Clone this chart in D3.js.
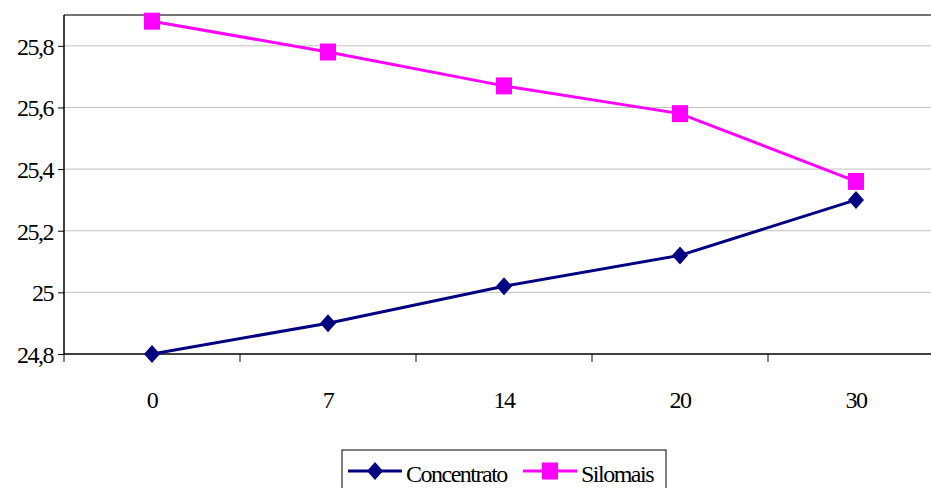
<!DOCTYPE html>
<meta charset="utf-8">
<style>
  body { margin: 0; background: #fff; }
  svg text { fill: #000; }
</style>
<body>
<script src="https://d3js.org/d3.v7.min.js"></script>
<div id="chart"></div>
<script>

// data
const days = ["0", "7", "14", "20", "30"];
const concentrato = [24.8, 24.9, 25.02, 25.12, 25.3];
const silomais = [25.88, 25.78, 25.67, 25.58, 25.36];
const yTicks = [24.8, 25.0, 25.2, 25.4, 25.6, 25.8];

const W = 931, H = 488;
const margin = {top: 15, left: 64, bottom: 354};
const plotRight = 944;   // plot area runs past the window edge
const serif = "Liberation Serif, DejaVu Serif, Times, serif";

const svg = d3.select("#chart").append("svg")
  .attr("width", W).attr("height", H);

const x = d3.scaleBand().domain(days).range([margin.left, plotRight]);
const y = d3.scaleLinear().domain([24.8, 25.9]).range([margin.bottom, margin.top]);

const fmt = d => String(+d.toFixed(1)).replace(".", ",");

// gridlines
svg.append("g").selectAll("line")
  .data(yTicks.slice(1))
  .join("line")
    .attr("x1", margin.left).attr("x2", plotRight)
    .attr("y1", d => y(d)).attr("y2", d => y(d))
    .attr("stroke", "#c0c0c0").attr("stroke-width", 1);

// plot area top border
svg.append("line")
  .attr("x1", margin.left).attr("x2", plotRight)
  .attr("y1", margin.top).attr("y2", margin.top)
  .attr("stroke", "#444").attr("stroke-width", 1.5);

// y axis
const yAxis = svg.append("g")
  .attr("transform", `translate(${margin.left},0)`)
  .call(d3.axisLeft(y).tickValues(yTicks).tickSize(6).tickPadding(5).tickFormat(fmt));
yAxis.select(".domain").attr("stroke", "#000").attr("stroke-width", 1.5)
  .attr("d", `M0,${margin.top}V${margin.bottom}`);
yAxis.selectAll(".tick line").attr("stroke", "#000");
yAxis.selectAll(".tick text")
  .attr("dy", "0.35em");

// x axis: ticks between categories
const xAxisG = svg.append("g").attr("transform", `translate(0,${margin.bottom})`);
xAxisG.append("line")
  .attr("x1", margin.left).attr("x2", plotRight)
  .attr("stroke", "#000").attr("stroke-width", 1.5);
xAxisG.selectAll(".sep")
  .data(days)
  .join("line").attr("class", "sep")
    .attr("x1", d => x(d)).attr("x2", d => x(d))
    .attr("y1", 0).attr("y2", 8)
    .attr("stroke", "#000");
xAxisG.selectAll(".lab")
  .data(days)
  .join("text").attr("class", "lab")
    .attr("x", d => x(d) + x.bandwidth() / 2)
    .attr("y", 54)
    .attr("text-anchor", "middle")
    .text(d => d);

const line = d3.line()
  .x((d, i) => x(days[i]) + x.bandwidth() / 2)
  .y(d => y(d));

const series = [
  {name: "Concentrato", values: concentrato, color: "#000080"},
  {name: "Silomais", values: silomais, color: "#ff00ff"}
];

function marker(g, s) {
  if (s.name === "Concentrato") {
    g.append("path").attr("d", "M0,-9L8,0L0,9L-8,0Z").attr("fill", s.color);
  } else {
    g.append("rect").attr("x", -8).attr("y", -8.5).attr("width", 16).attr("height", 17)
      .attr("fill", s.color);
  }
}

series.forEach(s => {
  svg.append("path")
    .datum(s.values)
    .attr("d", line)
    .attr("fill", "none")
    .attr("stroke", s.color)
    .attr("stroke-width", 3);
  s.values.forEach((v, i) => {
    const g = svg.append("g")
      .attr("transform", `translate(${x(days[i]) + x.bandwidth() / 2},${y(v)})`);
    marker(g, s);
  });
});

// legend
const leg = svg.append("g");
leg.append("rect")
  .attr("x", 342).attr("y", 450).attr("width", 324).attr("height", 50)
  .attr("fill", "#fff").attr("stroke", "#000").attr("stroke-width", 1);
const legX = [348, 523];
series.forEach((s, i) => {
  const g = leg.append("g").attr("transform", `translate(${legX[i]},471)`);
  g.append("line").attr("x1", 0).attr("x2", 54)
    .attr("stroke", s.color).attr("stroke-width", 3);
  marker(g.append("g").attr("transform", "translate(27,0)"), s);
  g.append("text")
    .attr("x", 58).attr("y", 11)
    .text(s.name);
});

// all texts: serif, slightly condensed like the original
svg.selectAll("text")
  .style("font-family", serif)
  .style("font-size", "24px")
  .style("letter-spacing", "-1.5px");

</script>
</body>
